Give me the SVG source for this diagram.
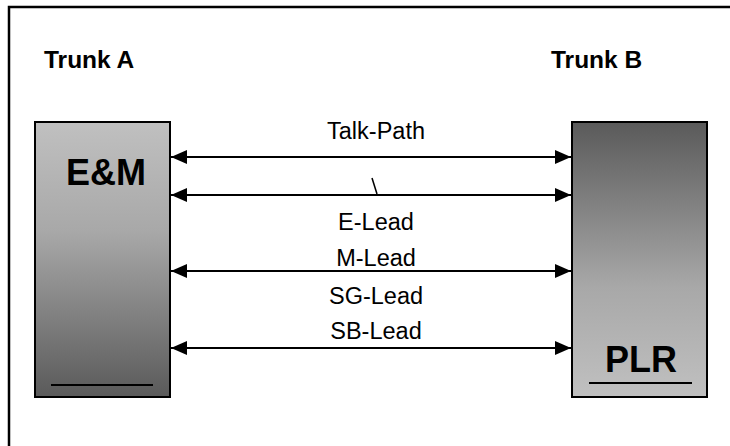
<svg xmlns="http://www.w3.org/2000/svg" width="730" height="446" viewBox="0 0 730 446">
<style>
.lbl{font-family:"Liberation Sans",Arial,sans-serif;font-size:23.5px;fill:#000;text-anchor:middle}
.ttl{font-family:"Liberation Sans",Arial,sans-serif;font-size:24.5px;font-weight:bold;fill:#000}
.big{font-family:"Liberation Sans",Arial,sans-serif;font-size:36px;font-weight:bold;fill:#000}
.box{stroke:#000;stroke-width:2}
.ln{stroke:#000;stroke-width:2;fill:none}
</style>
<defs>
<linearGradient id="gA" x1="0" y1="0" x2="0" y2="1">
<stop offset="0" stop-color="#c0c0c0"/>
<stop offset="0.4" stop-color="#a8a8a8"/>
<stop offset="1" stop-color="#5a5a5a"/>
</linearGradient>
<linearGradient id="gB" x1="0" y1="0" x2="0" y2="1">
<stop offset="0" stop-color="#5a5a5a"/>
<stop offset="0.6" stop-color="#a8a8a8"/>
<stop offset="1" stop-color="#c0c0c0"/>
</linearGradient>
<marker id="ah" viewBox="0 0 16 14" refX="16" refY="7" markerWidth="16" markerHeight="14" markerUnits="userSpaceOnUse" orient="auto-start-reverse">
<path d="M0,0 L16,7 L0,14 z" fill="#000"/>
</marker>
</defs>
<rect x="0" y="0" width="730" height="446" fill="#fff"/>
<rect id="frame" x="9" y="7" width="740" height="460" fill="none" stroke="#000" stroke-width="2.5"/>
<g id="trunkA-label"><text class="ttl" x="44" y="68">Trunk A</text></g>
<g id="trunkB-label"><text class="ttl" x="551" y="68">Trunk B</text></g>
<g id="em">
<rect class="box" x="35" y="122" width="135" height="275" fill="url(#gA)"/>
<text class="big" x="66" y="185">E&amp;M</text>
<line x1="51" y1="385" x2="153" y2="385" stroke="#000" stroke-width="2"/>
</g>
<g id="plr">
<rect class="box" x="572" y="122" width="135" height="275" fill="url(#gB)"/>
<text class="big" x="605" y="372">PLR</text>
<line x1="589" y1="383" x2="692" y2="383" stroke="#000" stroke-width="2"/>
</g>
<g id="connectors">
<line class="ln" x1="171" y1="157" x2="571" y2="157" marker-start="url(#ah)" marker-end="url(#ah)"/>
<line class="ln" x1="171" y1="195" x2="571" y2="195" marker-start="url(#ah)" marker-end="url(#ah)"/>
<line class="ln" x1="171" y1="271" x2="571" y2="271" marker-start="url(#ah)" marker-end="url(#ah)"/>
<line class="ln" x1="171" y1="348" x2="571" y2="348" marker-start="url(#ah)" marker-end="url(#ah)"/>
<line x1="372" y1="178" x2="377" y2="194" stroke="#000" stroke-width="1.5"/>
</g>
<g id="labels">
<text class="lbl" x="376" y="139">Talk-Path</text>
<text class="lbl" x="376" y="230">E-Lead</text>
<text class="lbl" x="376" y="266">M-Lead</text>
<text class="lbl" x="376" y="304">SG-Lead</text>
<text class="lbl" x="376" y="339">SB-Lead</text>
</g>
</svg>
